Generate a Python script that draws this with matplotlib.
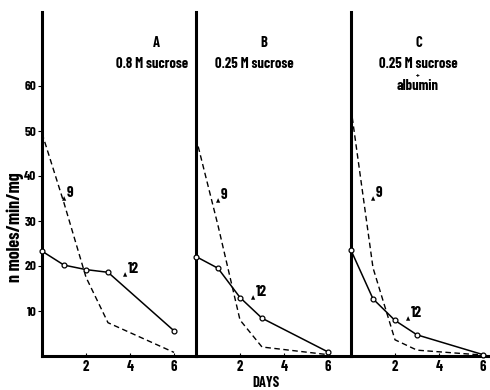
import matplotlib
matplotlib.use('Agg')
import matplotlib.pyplot as plt

plt.rcParams['font.family'] = ['Barlow Condensed', 'DejaVu Sans']
plt.rcParams['font.weight'] = 'bold'

# data (days, nmoles/min/mg)
days_solid = [0, 1, 2, 3, 6]
a_solid = [23.3, 20.2, 19.2, 18.6, 5.6]
b_solid = [22.1, 19.5, 13.0, 8.4, 0.9]
c_solid = [23.5, 12.7, 7.9, 4.7, 0.3]

days_dash = [0, 1, 2, 3, 6]
a_dash = [49.5, 34.0, 17.5, 7.4, 0.8]
b_dash = [48.5, 29.0, 8.0, 2.0, 0.3]
c_dash = [55.0, 19.6, 3.6, 1.3, 0.2]

letters = ['A', 'B', 'C']
media = ['0.8 M sucrose', '0.25 M sucrose', '0.25 M sucrose']
label9 = [(1.0, 35.0), (1.0, 34.5), (1.0, 35.0)]
label12 = [(3.8, 18.0), (2.6, 13.0), (2.6, 8.3)]

W, H = 490, 390
fig = plt.figure(figsize=(W/100, H/100), dpi=100)

lefts = [42, 196, 351]
rights = [196, 351, 490]
bot = 356
top = 12
solids = [a_solid, b_solid, c_solid]
dashes = [a_dash, b_dash, c_dash]

for i in range(3):
    ax = fig.add_axes([lefts[i]/W, (H-bot)/H, (rights[i]-lefts[i])/W, (bot-top)/H])
    ax.set_xlim(0, (rights[i]-lefts[i])/22.0)
    ax.set_ylim(0, (bot-top)/4.5)
    ax.plot(days_dash, dashes[i], color='black', lw=1.0, dashes=(4, 2.5), clip_on=False)
    ax.plot(days_solid, solids[i], color='black', lw=1.1, marker='o', ms=3.5,
            mfc='white', mec='black', mew=0.9, clip_on=False, zorder=3)
    for s in ['top', 'right']:
        ax.spines[s].set_visible(False)
    ax.spines['left'].set_linewidth(2.2)
    ax.spines['bottom'].set_linewidth(2.2)
    ax.set_xticks([2, 4, 6])
    ax.set_xticklabels(['2', '4', '6'], fontsize=10.5, fontweight='bold')
    ax.tick_params(axis='x', direction='in', length=2, width=0.8, pad=3)
    if i == 0:
        ax.set_yticks([10, 20, 30, 40, 50, 60])
        ax.set_yticklabels(['10', '20', '30', '40', '50', '60'], fontsize=9.5, fontweight='bold')
        ax.tick_params(axis='y', direction='out', length=3, width=0.8, pad=1)
        ax.set_ylabel('n moles/min/mg', fontsize=13, fontweight='bold')
        ax.yaxis.set_label_coords(-0.115, 0.375)
    else:
        ax.set_yticks([])
    cx = 3.1 if i > 0 else 5.2
    ax.text(cx, 69.5, letters[i], ha='center', va='center', fontsize=10.5, fontweight='bold')
    mx = [5.0, 2.65, 3.05][i]
    ax.text(mx, 65.0, media[i], ha='center', va='center', fontsize=10.5, fontweight='bold')
    if i == 2:
        ax.text(3.05, 62.3, '+', ha='center', va='center', fontsize=6, fontweight='bold')
        ax.text(3.05, 60.0, 'albumin', ha='center', va='center', fontsize=10.5, fontweight='bold')
    for (x, y), t in [(label9[i], '9'), (label12[i], '12')]:
        ax.text(x, y, '\u25b2', ha='center', va='center', fontsize=4, family='DejaVu Sans')
        ax.text(x + 0.12, y + 1.3, t, ha='left', va='center', fontsize=11, fontweight='bold')
    if i == 1:
        ax.set_xlabel('DAYS', fontsize=10.5, fontweight='bold')
        ax.xaxis.set_label_coords(0.45, -0.057)

fig.savefig('out.png', dpi=100)
